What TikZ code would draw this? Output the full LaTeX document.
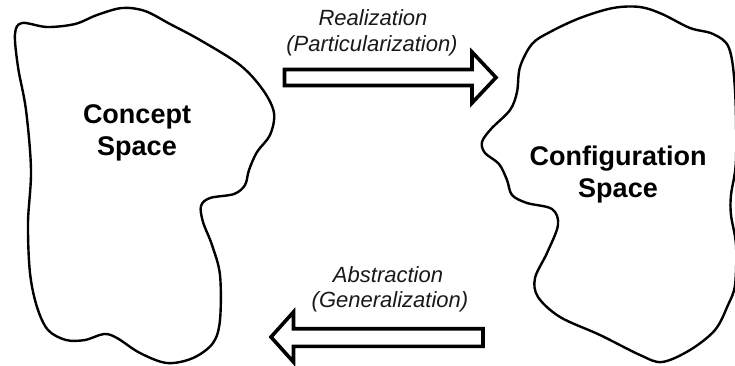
\documentclass[tikz,border=0pt]{standalone}
\usepackage{fontspec}
\setmainfont{Liberation Sans}
\begin{document}
\begin{tikzpicture}[x=1pt,y=-1pt,
  blob/.style={draw=black,line width=2.4pt,line join=round},
  bigarrow/.style={draw=black,fill=white,line width=3.6pt,line join=miter},
  spacelabel/.style={font=\bfseries\fontsize{27}{31}\selectfont,anchor=base,inner sep=0pt,text=black},
  actlabel/.style={font=\itshape\fontsize{22}{26}\selectfont,anchor=base,inner sep=0pt,text=black!90}]
\useasboundingbox[fill=white] (0,0) rectangle (735,365);
% Concept space blob
\draw[blob] plot[smooth cycle,tension=0.55] coordinates {
 (15,34) (22,23) (47,27) (75,24) (97,15) (122,8) (145,11) (170,24)
 (200,40) (240,65) (263,90) (274,113) (270,135) (257,152) (249,170)
 (245,185) (234,194) (210,198) (201,206) (203,222) (212,245) (220,275)
 (220,320) (213,343) (193,358) (167,363) (140,353) (117,338) (104,334)
 (85,340) (66,340) (48,330) (37,307) (30,273) (28,223) (31,170) (26,110) (18,67)};
% Configuration space blob
\draw[blob] plot[smooth cycle,tension=0.55] coordinates {
 (640,7) (662,14) (690,28) (713,34) (729,48) (735,90) (736,160)
 (731,195) (731,215) (736,245) (735,285) (728,305) (715,330) (690,350)
 (662,362) (640,355) (600,335) (560,317) (538,297) (535,278) (547,253)
 (558,225) (552,209) (527,203) (512,195) (507,180) (499,164) (485,153)
 (482,142) (491,129) (510,110) (517,92) (520,67) (532,44) (550,32)
 (580,18) (613,8)};
% labels
\node[spacelabel] (c1) at (137,123) {Concept};
\node[spacelabel] (c2) at (137,155) {Space};
\node[spacelabel] (g1) at (618,165) {Configuration};
\node[spacelabel] (g2) at (618,197) {Space};
\node[actlabel] (r1) at (373,25) {Realization};
\node[actlabel] (r2) at (372,51.5) {(Particularization)};
\node[actlabel] (a1) at (388,282) {Abstraction};
\node[actlabel] (a2) at (390,307) {(Generalization)};
% arrows
\draw[bigarrow] (284.5,69.5) -- (472,69.5) -- (472,52) -- (496,77.5)
  -- (472,103) -- (472,85.5) -- (284.5,85.5) -- cycle;
\draw[bigarrow] (483,328.7) -- (293.5,328.7) -- (293.5,312) -- (271,337)
  -- (293.5,362) -- (293.5,346.3) -- (483,346.3) -- cycle;
\end{tikzpicture}
\end{document}
